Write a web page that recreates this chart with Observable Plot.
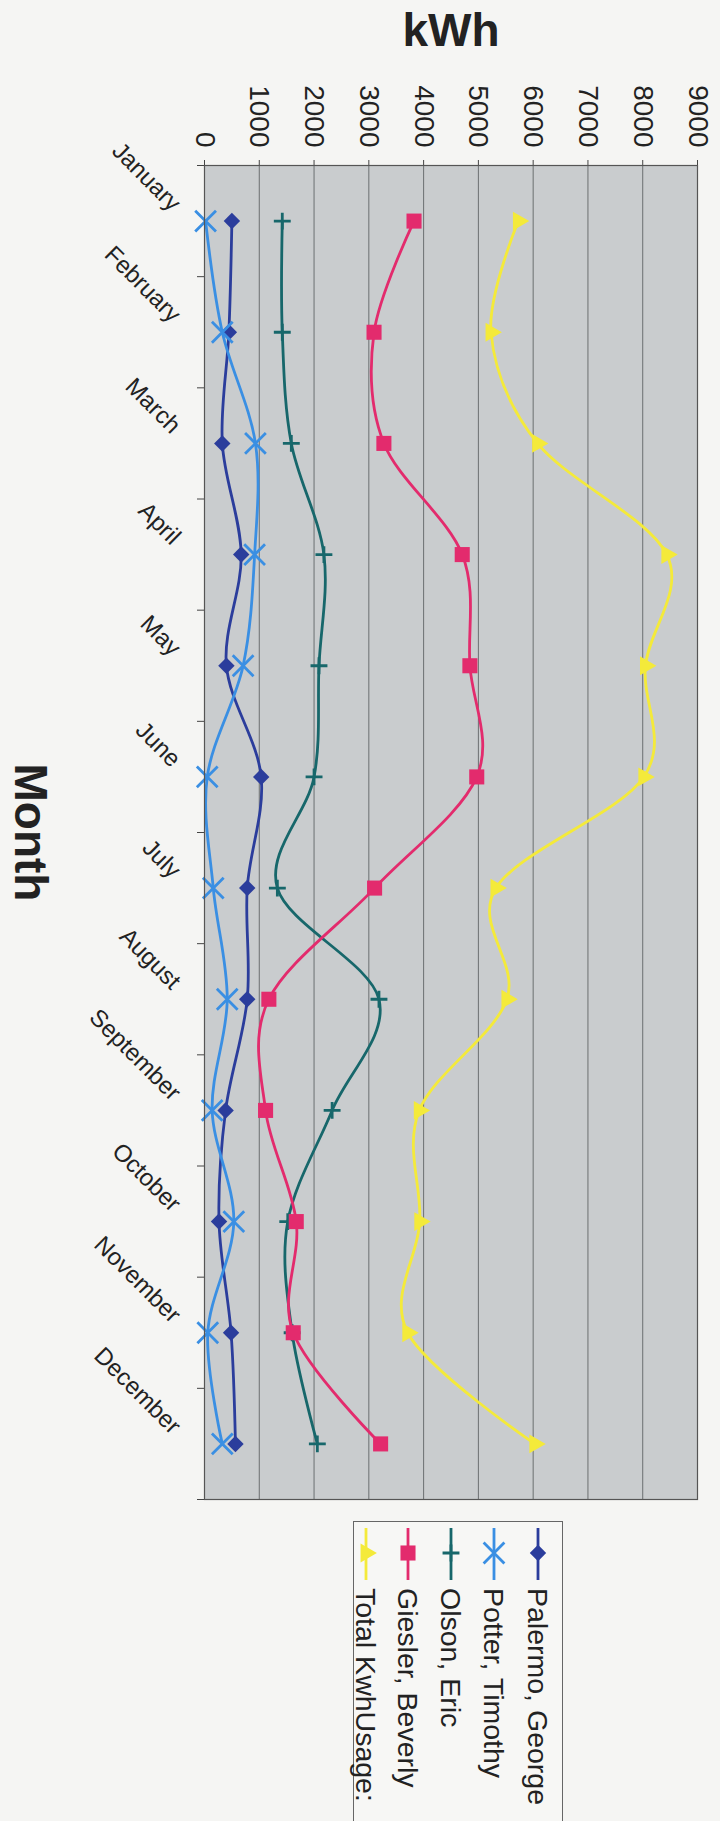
<!DOCTYPE html>
<html><head><meta charset="utf-8">
<script src="https://cdn.jsdelivr.net/npm/d3@7"></script>
<script src="https://cdn.jsdelivr.net/npm/@observablehq/plot@0.6"></script>
<style>
html,body{margin:0;padding:0;background:#f5f5f3;overflow:hidden;}
body{width:720px;height:1821px;position:relative;font-family:"Liberation Sans",Arial,sans-serif;}
#chart svg{display:block;}
#legend{position:absolute;left:353px;top:1521px;width:208px;height:299px;border:1px solid #666;border-bottom:none;background:#f7f7f5;}
#legend svg{display:block;overflow:visible;}
</style></head><body>
<div id="chart"></div>
<div id="legend"></div>
<script>
const months = ["January","February","March","April","May","June","July","August","September","October","November","December"];
const kwhTicks = [0,1000,2000,3000,4000,5000,6000,7000,8000,9000];

const palermo = [500, 445, 325, 670, 400, 1035, 780, 780, 385, 265, 485, 565];
const potter  = [20, 325, 930, 915, 705, 50, 160, 415, 140, 535, 60, 325];
const olson   = [1420, 1420, 1585, 2180, 2090, 2000, 1330, 3185, 2330, 1520, 1600, 2060];
const giesler = [3825, 3095, 3275, 4705, 4845, 4970, 3105, 1175, 1115, 1675, 1620, 3215];
const total   = [5730, 5230, 6080, 8440, 8050, 8020, 5320, 5520, 3920, 3930, 3710, 6030];

const seriesNames   = ["Palermo, George","Potter, Timothy","Olson, Eric","Giesler, Beverly","Total KwhUsage:"];
const seriesValues  = [palermo, potter, olson, giesler, total];
const seriesColors  = ["#2b3d9c","#3a8fe3","#17676b","#e32b6d","#f4ea3a"];
const seriesSymbols = ["diamond2","times","plus","square","triangle"];
const seriesR       = [7.4, 9.5, 5.5, 8.5, 7];
const seriesFilled  = [true, false, false, true, true];
const seriesRotate  = [0, 0, 0, 0, 90];

const boundaries = months.map((m, i) => i - 0.5).concat([months.length - 0.5]);

const marks = [
  Plot.frame({fill: "#c9ccce"}),
  Plot.ruleX(kwhTicks, {stroke: "#6b6f71", strokeWidth: 1})
];
seriesValues.forEach((vals, s) => {
  const rows = months.map((m, i) => ({month: m, i, value: vals[i]}));
  marks.push(Plot.line(rows, {x: "value", y: "i", stroke: seriesColors[s], strokeWidth: 2.8, curve: "cardinal", tension: 0}));
  const dotOpts = {x: "value", y: "i", symbol: seriesSymbols[s], r: seriesR[s], rotate: seriesRotate[s]};
  if (seriesFilled[s]) { dotOpts.fill = seriesColors[s]; dotOpts.stroke = "none"; }
  else { dotOpts.fill = "none"; dotOpts.stroke = seriesColors[s]; dotOpts.strokeWidth = 2.8; }
  marks.push(Plot.dot(rows, dotOpts));
});
marks.push(
  Plot.frame({stroke: "#555", strokeWidth: 1.2}),
  Plot.text(kwhTicks, {x: d => d, text: d => String(d), frameAnchor: "top", rotate: 90, textAnchor: "end", lineAnchor: "middle", dy: -18, fontSize: 28, fill: "#222"}),
  Plot.text(months, {y: (d, i) => i, text: d => d, frameAnchor: "left", rotate: 45, textAnchor: "end", lineAnchor: "middle", dx: -28, dy: -14, fontSize: 24, fill: "#222"}),
  Plot.text(["kWh"], {frameAnchor: "top", textAnchor: "middle", lineAnchor: "middle", dy: -134, fontSize: 46, fontWeight: "bold", fill: "#222"}),
  Plot.text(["Month"], {frameAnchor: "left", textAnchor: "middle", lineAnchor: "middle", dx: -175, rotate: 90, fontSize: 46, fontWeight: "bold", fill: "#222"})
);

const chart = Plot.plot({
  width: 720,
  height: 1510,
  marginTop: 165,
  marginLeft: 204,
  marginRight: 23,
  marginBottom: 11,
  style: {background: "transparent", fontFamily: "Liberation Sans, Arial, sans-serif", fontSize: "20px", color: "#444"},
  x: {domain: [0, 9000], axis: "top", ticks: kwhTicks, tickFormat: () => "", tickSize: 6, label: null},
  y: {domain: [-0.5, months.length - 0.5], reverse: true, ticks: boundaries, tickFormat: () => "", tickSize: 7, label: null},
  marks
});
document.getElementById("chart").appendChild(chart);

// legend
const lw = 208, lh = 295;
const lsvg = d3.select("#legend").append("svg").attr("width", lw).attr("height", lh);
const itemX = [184, 140, 97, 54, 12];
const symMap = {diamond2: d3.symbolDiamond2, times: d3.symbolTimes, plus: d3.symbolPlus, square: d3.symbolSquare, triangle: d3.symbolTriangle};
seriesNames.forEach((name, s) => {
  const g = lsvg.append("g").attr("transform", `translate(${itemX[s]},0)`);
  g.append("line").attr("x1", 0).attr("x2", 0).attr("y1", 6).attr("y2", 58)
    .attr("stroke", seriesColors[s]).attr("stroke-width", 2.8);
  const p = d3.symbol(symMap[seriesSymbols[s]], Math.PI * seriesR[s] * seriesR[s])();
  const sym = g.append("path").attr("d", p).attr("transform", `translate(0,31) rotate(${seriesRotate[s]})`);
  if (seriesFilled[s]) sym.attr("fill", seriesColors[s]);
  else sym.attr("fill", "none").attr("stroke", seriesColors[s]).attr("stroke-width", 2.8);
  g.append("text").attr("transform", "translate(0,66) rotate(90)")
    .attr("dominant-baseline", "central").attr("font-size", 28.5).attr("fill", "#222")
    .attr("font-family", "Liberation Sans, Arial, sans-serif").text(name);
});
</script>
</body></html>
